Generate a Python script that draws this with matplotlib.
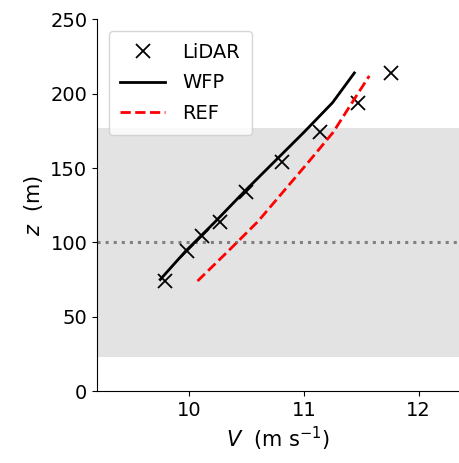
import matplotlib
matplotlib.use("Agg")
import matplotlib.pyplot as plt

plt.rcParams['font.family'] = ['DejaVu Sans']
plt.rcParams['mathtext.fontset'] = 'dejavusans'

# LiDAR measurements
z_lidar = [74, 94, 104, 114, 134, 154, 174, 194, 214]
v_lidar = [9.79, 9.98, 10.11, 10.27, 10.50, 10.81, 11.14, 11.47, 11.76]

# WFP profile
z_wfp = [75, 94, 104, 114, 134, 154, 174, 194, 214]
v_wfp = [9.75, 9.97, 10.10, 10.23, 10.48, 10.74, 11.00, 11.25, 11.44]

# REF profile
z_ref = [74, 94, 104, 114, 134, 154, 174, 194, 212]
v_ref = [10.075, 10.34, 10.47, 10.60, 10.82, 11.04, 11.255, 11.42, 11.57]

hub_height = 100
rotor_bottom, rotor_top = 23, 177

fig = plt.figure(figsize=(4.6, 4.63), dpi=100)
ax = fig.add_axes([0.211, 0.1555, 0.789, 0.8025])

ax.axhspan(rotor_bottom, rotor_top, color='#e3e3e3', zorder=0, lw=0)
ax.axhline(hub_height, color='gray', ls=':', lw=2.2, zorder=1)

ax.plot(v_lidar, z_lidar, 'x', color='k', ms=10, mew=1.3, ls='none', label='LiDAR')
ax.plot(v_wfp, z_wfp, '-', color='k', lw=2, label='WFP')
ax.plot(v_ref, z_ref, '--', color='red', lw=2, label='REF')

ax.set_xlim(9.2, 12.36)
ax.set_ylim(0, 250)
ax.set_xticks([10, 11, 12])
ax.set_yticks([0, 50, 100, 150, 200, 250])
ax.tick_params(labelsize=14)
ax.spines['top'].set_visible(False)
ax.spines['right'].set_visible(False)

ax.set_xlabel(r'$V$  (m s$^{-1}$)', fontsize=15)
ax.set_ylabel(r'$z$  (m)', fontsize=15)

ax.legend(loc='upper left', fontsize=14, bbox_to_anchor=(0.0, 1.0),
          borderaxespad=0.6, handlelength=2.3, handletextpad=0.9,
          labelspacing=0.6, borderpad=0.6)

fig.savefig('out.png', dpi=100)
